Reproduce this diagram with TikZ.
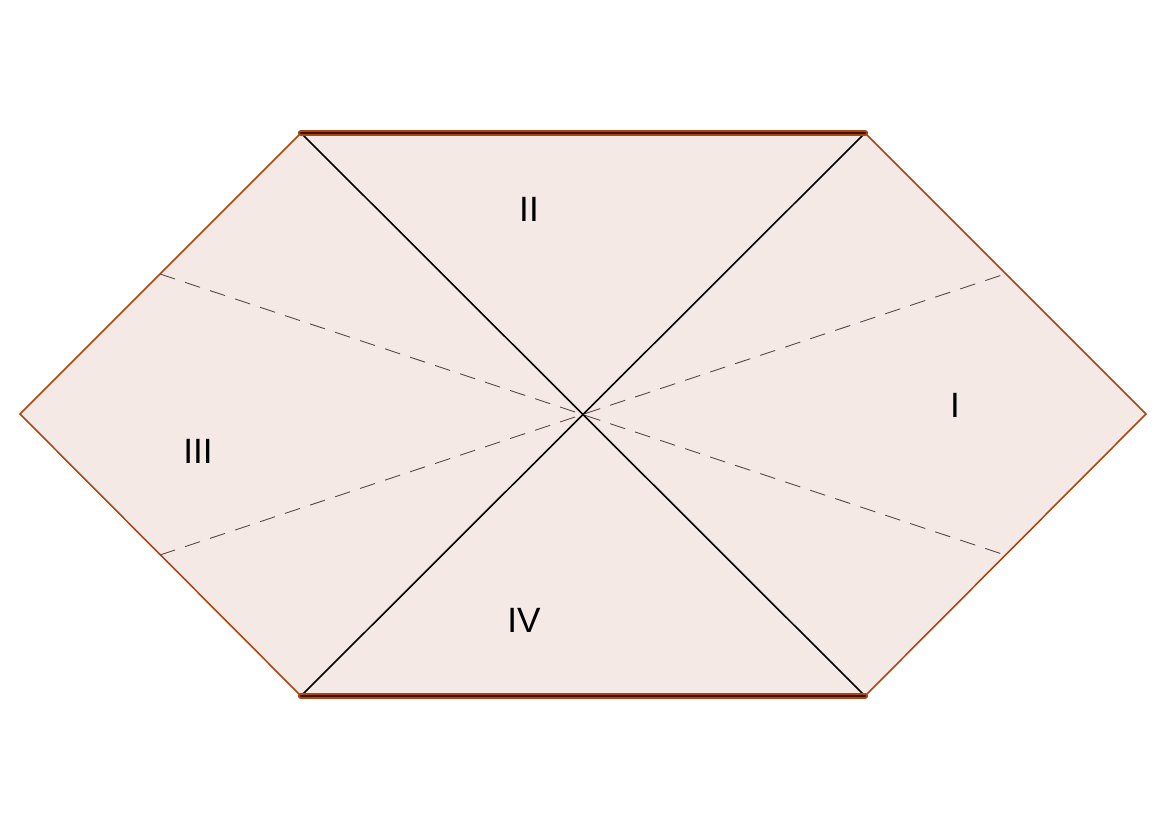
\documentclass[tikz,border=0pt]{standalone}
\usepackage{fontspec}
\setmainfont{Liberation Sans}
\definecolor{edgebrown}{RGB}{170,70,20}
\definecolor{darkbrown}{RGB}{60,20,5}
\definecolor{fillpink}{RGB}{245,233,229}
\definecolor{dashgray}{RGB}{90,70,65}
\tikzset{
  region/.style={fill=fillpink,draw=edgebrown,line width=0.9pt,line join=miter},
  horizon/.style={draw=black,line width=0.9pt},
  slice/.style={draw=dashgray,line width=0.5pt,dash pattern=on 9pt off 6pt},
  singular/.style={draw=edgebrown,line width=3.6pt,line cap=round},
  singularcore/.style={draw=darkbrown,line width=1.7pt,line cap=round},
  lab/.style={font=\fontsize{20}{24}\selectfont,inner sep=0pt}
}
\begin{document}
\begin{tikzpicture}[x=0.02cm,y=-0.02cm]
\useasboundingbox (0,0) rectangle (1170,827);
\coordinate (L) at (20,414);
\coordinate (TL) at (301,133);
\coordinate (TR) at (865,133);
\coordinate (R) at (1146,414);
\coordinate (BR) at (865,696);
\coordinate (BL) at (301,696);
\coordinate (C) at (583,414);
\coordinate (dL1) at (160,274);
\coordinate (dL2) at (160,555);
\coordinate (dR1) at (1005,274);
\coordinate (dR2) at (1005,555);
\path[region] (L) -- (TL) -- (TR) -- (R) -- (BR) -- (BL) -- cycle;
\draw[slice] (dL1) -- (dR2);
\draw[slice] (dL2) -- (dR1);
\draw[horizon] (TL) -- (BR);
\draw[horizon] (TR) -- (BL);
\draw[singular] (TL) -- (TR);
\draw[singular] (BL) -- (BR);
\draw[singularcore] (TL) -- (TR);
\draw[singularcore] (BL) -- (BR);
\node[lab] (nII) at (529,209) {II};
\node[lab] (nI) at (955,405) {I};
\node[lab] (nIII) at (198,451) {III};
\node[lab] (nIV) at (524,620) {IV};
\end{tikzpicture}
\end{document}
